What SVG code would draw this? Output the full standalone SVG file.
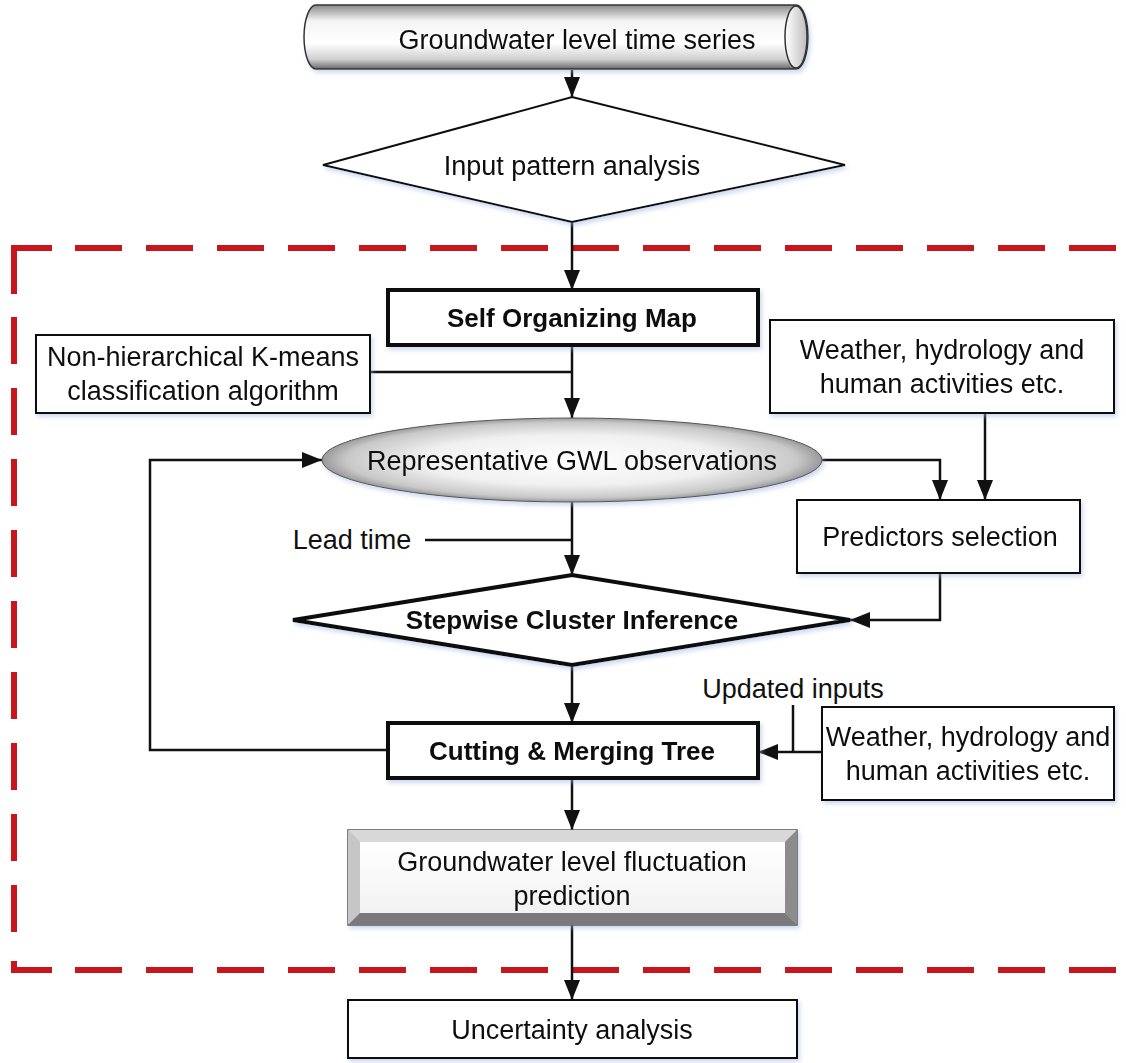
<svg xmlns="http://www.w3.org/2000/svg" width="1126" height="1063" viewBox="0 0 1126 1063">
<defs>
<style>
.t{font-family:"Liberation Sans",Arial,sans-serif;font-size:27px;fill:#111;text-anchor:middle}
.b{font-weight:bold;font-size:26px}
.box{fill:#fff;stroke:#111;stroke-width:2}
.thick{fill:#fff;stroke:#111;stroke-width:4}
.ln{fill:none;stroke:#111;stroke-width:2.5}
.dash{fill:none;stroke:#c8161d;stroke-width:6;stroke-dasharray:47 24}
.solid{fill:none;stroke:#c8161d;stroke-width:6}
</style>
<marker id="arr" viewBox="0 0 20 20" refX="20" refY="10" markerWidth="20" markerHeight="20" markerUnits="userSpaceOnUse" orient="auto">
<path d="M0,2 L20,10 L0,18 z" fill="#111"/>
</marker>
<filter id="sh" x="-10%" y="-20%" width="120%" height="150%">
<feGaussianBlur in="SourceAlpha" stdDeviation="2"/>
<feOffset dx="2" dy="3" result="o"/>
<feFlood flood-color="#9fb4e0" flood-opacity="0.5"/>
<feComposite in2="o" operator="in"/>
<feMerge><feMergeNode/><feMergeNode in="SourceGraphic"/></feMerge>
</filter>
<linearGradient id="cyl" x1="0" y1="0" x2="0" y2="1">
<stop offset="0" stop-color="#8a8a8a"/>
<stop offset="0.25" stop-color="#f4f4f4"/>
<stop offset="0.6" stop-color="#ffffff"/>
<stop offset="0.85" stop-color="#cfcfcf"/>
<stop offset="1" stop-color="#6a6a6a"/>
</linearGradient>
<linearGradient id="cap" x1="0" y1="0" x2="1" y2="0">
<stop offset="0" stop-color="#ffffff"/>
<stop offset="1" stop-color="#bdbdbd"/>
</linearGradient>
<radialGradient id="ell" cx="0.5" cy="0.5" r="0.5">
<stop offset="0" stop-color="#ffffff"/>
<stop offset="0.6" stop-color="#f0f0f0"/>
<stop offset="0.9" stop-color="#c8c8c8"/>
<stop offset="1" stop-color="#9a9a9a"/>
</radialGradient>
<linearGradient id="bev" x1="0" y1="0" x2="0" y2="1">
<stop offset="0" stop-color="#ffffff"/>
<stop offset="1" stop-color="#f2f2f2"/>
</linearGradient>
</defs>
<rect width="1126" height="1063" fill="#fff"/>

<g id="boundary">
<path class="solid" d="M14,294 L14,248 L52,248"/>
<path class="dash" d="M75,248 L1126,248"/>
<path class="dash" d="M14,317 L14,945"/>
<path class="solid" d="M14,961 L14,970 L52,970"/>
<path class="dash" d="M75,970 L1126,970"/>
</g>

<g id="connectors">
<line class="ln" x1="572" y1="70" x2="572" y2="97" marker-end="url(#arr)"/>
<line class="ln" x1="572" y1="222" x2="572" y2="290" marker-end="url(#arr)"/>
<line class="ln" x1="572" y1="345" x2="572" y2="418" marker-end="url(#arr)"/>
<line class="ln" x1="370" y1="372" x2="572" y2="372"/>
<polyline class="ln" points="388,750 150,750 150,460 322,460" marker-end="url(#arr)"/>
<polyline class="ln" points="822,460 940,460 940,500" marker-end="url(#arr)"/>
<line class="ln" x1="985" y1="413" x2="985" y2="500" marker-end="url(#arr)"/>
<polyline class="ln" points="940,573 940,620 850,620" marker-end="url(#arr)"/>
<line class="ln" x1="425" y1="540" x2="572" y2="540"/>
<line class="ln" x1="572" y1="502" x2="572" y2="575" marker-end="url(#arr)"/>
<line class="ln" x1="572" y1="665" x2="572" y2="723" marker-end="url(#arr)"/>
<line class="ln" x1="793" y1="705" x2="793" y2="752"/>
<line class="ln" x1="822" y1="752" x2="758" y2="752" marker-end="url(#arr)"/>
<line class="ln" x1="572" y1="778" x2="572" y2="830" marker-end="url(#arr)"/>
<line class="ln" x1="572" y1="925" x2="572" y2="1000" marker-end="url(#arr)"/>
</g>

<g id="n_series" filter="url(#sh)">
<path d="M316,5 L796,5 A12,32 0 0 1 796,69 L316,69 A12,32 0 0 1 316,5 z" fill="url(#cyl)" stroke="#333" stroke-width="1.5"/>
<ellipse cx="796" cy="37" rx="11" ry="31" fill="url(#cap)" stroke="#333" stroke-width="1.5"/>
<text class="t" x="577" y="49">Groundwater level time series</text>
</g>

<g id="n_input" filter="url(#sh)">
<polygon class="box" points="572,97 845,165 572,222 323,165"/>
<text class="t" x="572" y="175">Input pattern analysis</text>
</g>

<g id="n_som" filter="url(#sh)">
<rect class="thick" x="388" y="290" width="370" height="55"/>
<text class="t b" x="572" y="327">Self Organizing Map</text>
</g>

<g id="n_kmeans" filter="url(#sh)">
<rect class="box" x="36" y="335" width="334" height="78"/>
<text class="t" x="203" y="366">Non-hierarchical K-means</text>
<text class="t" x="203" y="400">classification algorithm</text>
</g>

<g id="n_weather1" filter="url(#sh)">
<rect class="box" x="770" y="320" width="344" height="93"/>
<text class="t" x="942" y="359">Weather, hydrology and</text>
<text class="t" x="942" y="393">human activities etc.</text>
</g>

<g id="n_gwl" filter="url(#sh)">
<ellipse cx="572" cy="460" rx="250" ry="42" fill="url(#ell)" stroke="#555" stroke-width="1"/>
<text class="t" x="572" y="470">Representative GWL observations</text>
</g>

<g id="n_pred" filter="url(#sh)">
<rect class="box" x="797" y="500" width="283" height="73"/>
<text class="t" x="940" y="546">Predictors selection</text>
</g>

<g id="l_lead">
<text class="t" x="352" y="549">Lead time</text>
</g>

<g id="n_sci" filter="url(#sh)">
<polygon class="thick" points="572,575 850,620 572,665 293,620"/>
<text class="t b" x="572" y="629">Stepwise Cluster Inference</text>
</g>

<g id="l_updated">
<text class="t" x="793" y="698">Updated inputs</text>
</g>

<g id="n_cmt" filter="url(#sh)">
<rect class="thick" x="388" y="723" width="370" height="55"/>
<text class="t b" x="572" y="760">Cutting &amp; Merging Tree</text>
</g>

<g id="n_weather2" filter="url(#sh)">
<rect class="box" x="822" y="707" width="292" height="93"/>
<text class="t" x="968" y="746">Weather, hydrology and</text>
<text class="t" x="968" y="780">human activities etc.</text>
</g>

<g id="n_fluct" filter="url(#sh)">
<rect x="348" y="830" width="449" height="95" fill="#bbb" stroke="#555" stroke-width="1.5"/>
<polygon points="348,830 797,830 785,842 360,842" fill="#d8d8d8"/>
<polygon points="348,830 360,842 360,913 348,925" fill="#c6c6c6"/>
<polygon points="797,830 797,925 785,913 785,842" fill="#8c8c8c"/>
<polygon points="348,925 360,913 785,913 797,925" fill="#7a7a7a"/>
<rect x="360" y="842" width="425" height="71" fill="url(#bev)"/>
<text class="t" x="572" y="871">Groundwater level fluctuation</text>
<text class="t" x="572" y="905">prediction</text>
</g>

<g id="n_unc" filter="url(#sh)">
<rect class="box" x="348" y="1000" width="449" height="58"/>
<text class="t" x="572" y="1039">Uncertainty analysis</text>
</g>
</svg>
